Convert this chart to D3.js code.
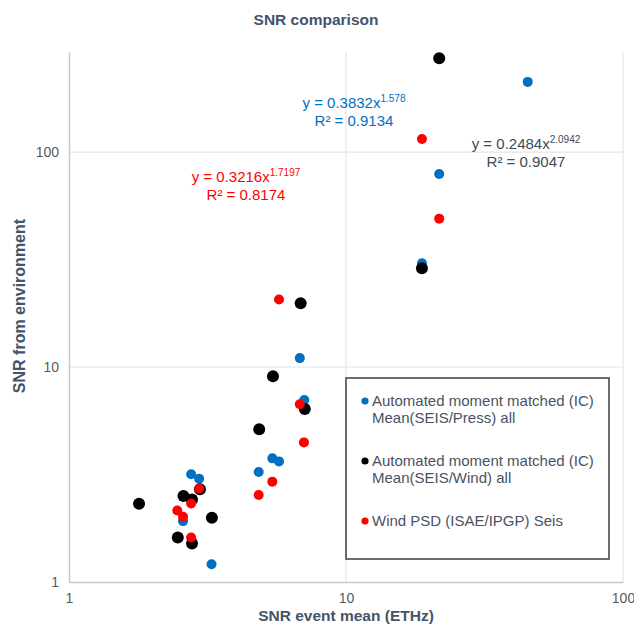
<!DOCTYPE html>
<html>
<head>
<meta charset="utf-8">
<script src="https://cdn.jsdelivr.net/npm/d3@7"></script>
<style>
  html, body { margin: 0; padding: 0; background: #fff; }
  svg { display: block; font-family: "Liberation Sans", Arial, sans-serif; }
</style>
</head>
<body>
<svg id="chart" width="634" height="631"></svg>
<script>
// SNR values per series: [event mean (ETHz), from environment]
const pressPoints = [
  [6.81, 11.0], [7.07, 7.02], [5.42, 3.76], [5.73, 3.64], [4.84, 3.25],
  [2.76, 3.17], [2.95, 3.02], [2.58, 1.92], [3.27, 1.21], [21.7, 79.0],
  [18.8, 30.4], [45.3, 212]
];
const windPoints = [
  [21.7, 273], [6.86, 19.8], [5.45, 9.05], [7.10, 6.38], [4.86, 5.13],
  [2.97, 2.70], [2.59, 2.51], [2.78, 2.42], [1.79, 2.31], [3.28, 1.99],
  [2.47, 1.61], [2.78, 1.51], [18.8, 28.8]
];
const psdPoints = [
  [5.73, 20.6], [6.81, 6.71], [7.05, 4.46], [5.42, 2.93], [4.84, 2.54],
  [2.95, 2.72], [2.76, 2.32], [2.46, 2.15], [2.58, 2.01], [2.76, 1.61],
  [18.8, 115], [21.7, 49.0]
];
const seriesNames = [
  ["Automated moment matched (IC)", "Mean(SEIS/Press) all"],
  ["Automated moment matched (IC)", "Mean(SEIS/Wind) all"],
  ["Wind PSD (ISAE/IPGP) Seis"]
];
const seriesColors = ["#0070C0", "#000000", "#FF0000"];
const fitEquations = [
  { coef: "0.3832", exp: "1.578", r2: "0.9134" },
  { coef: "0.2484", exp: "2.0942", r2: "0.9047" },
  { coef: "0.3216", exp: "1.7197", r2: "0.8174" }
];
const xTicks = [1, 10, 100];
const yTicks = [1, 10, 100];
const xDomain = [1, 100];
const yDomain = [1, 292];

const svg = d3.select("#chart");
const plot = { left: 69, right: 623, top: 52, bottom: 582 };

const x = d3.scaleLog().domain(xDomain).range([plot.left, plot.right]);
const y = d3.scaleLog().domain(yDomain).range([plot.bottom, plot.top]);

const labelColor = "#44546A";
const tickColor = "#595959";

// gridlines
const grid = svg.append("g");
grid.selectAll("line.gx").data(xTicks.slice(1)).join("line")
  .attr("x1", d => x(d)).attr("x2", d => x(d))
  .attr("y1", plot.top).attr("y2", plot.bottom)
  .attr("stroke", "#e2e4e8").attr("stroke-width", 1.2);
grid.selectAll("line.gy").data(yTicks.slice(1)).join("line")
  .attr("x1", plot.left).attr("x2", plot.right)
  .attr("y1", d => y(d)).attr("y2", d => y(d))
  .attr("stroke", "#e2e4e8").attr("stroke-width", 1.2);

// axes
const xAxis = d3.axisBottom(x).tickValues(xTicks).tickFormat(d3.format("d")).tickSize(0).tickPadding(11);
const yAxis = d3.axisLeft(y).tickValues(yTicks).tickFormat(d3.format("d")).tickSize(0).tickPadding(10);

const gx = svg.append("g").attr("transform", `translate(0,${plot.bottom})`).call(xAxis);
const gy = svg.append("g").attr("transform", `translate(${plot.left},0)`).call(yAxis);
[gx, gy].forEach(g => {
  g.select(".domain").attr("stroke", "#bccbd8").attr("stroke-width", 1.5);
  g.selectAll("text").attr("fill", tickColor).attr("font-size", 14)
    .attr("font-family", "Liberation Sans, Arial, sans-serif");
});

// titles
svg.append("text").attr("x", 316).attr("y", 25).attr("text-anchor", "middle")
  .attr("font-size", 15.5).attr("font-weight", "bold").attr("fill", labelColor)
  .text("SNR comparison");
svg.append("text").attr("x", 346).attr("y", 621).attr("text-anchor", "middle")
  .attr("font-size", 15.5).attr("font-weight", "bold").attr("fill", labelColor)
  .text("SNR event mean (ETHz)");
svg.append("text").attr("transform", "translate(25,306) rotate(-90)")
  .attr("text-anchor", "middle")
  .attr("font-size", 16).attr("font-weight", "bold").attr("fill", labelColor)
  .text("SNR from environment");

// points: blue first, then black, red on top
const allSeries = [pressPoints, windPoints, psdPoints];
const radii = [5, 6, 5];
allSeries.forEach((pts, i) => {
  svg.append("g").selectAll("circle").data(pts).join("circle")
    .attr("cx", d => x(d[0])).attr("cy", d => y(d[1]))
    .attr("r", radii[i]).attr("fill", seriesColors[i]);
});

// trendline equations
const eqPos = [
  { x: 354, y: 108, color: "#0070C0" },
  { x: 526, y: 149, color: "#404a5a" },
  { x: 246, y: 182, color: "#FF0000" }
];
fitEquations.forEach((f, i) => {
  const p = eqPos[i];
  const t = svg.append("text").attr("x", p.x).attr("y", p.y)
    .attr("text-anchor", "middle").attr("font-size", 15).attr("fill", p.color);
  t.append("tspan").text(`y = ${f.coef}x`);
  t.append("tspan").attr("font-size", 10).attr("dy", -6).text(f.exp);
  svg.append("text").attr("x", p.x).attr("y", p.y + 18)
    .attr("text-anchor", "middle").attr("font-size", 15).attr("fill", p.color)
    .text(`R² = ${f.r2}`);
});

// legend
const legend = svg.append("g");
legend.append("rect").attr("x", 346).attr("y", 378).attr("width", 263).attr("height", 181)
  .attr("fill", "#fff").attr("stroke", "#3d3d3d").attr("stroke-width", 1.5);
const legendRows = [401, 461, 521];
seriesNames.forEach((lines, i) => {
  legend.append("circle").attr("cx", 365).attr("cy", legendRows[i]).attr("r", 3.6)
    .attr("fill", seriesColors[i]);
  lines.forEach((ln, j) => {
    legend.append("text").attr("x", 372).attr("y", legendRows[i] + 5 + j * 16.5)
      .attr("font-size", 15).attr("fill", "#4a5262").text(ln);
  });
});
</script>
</body>
</html>
